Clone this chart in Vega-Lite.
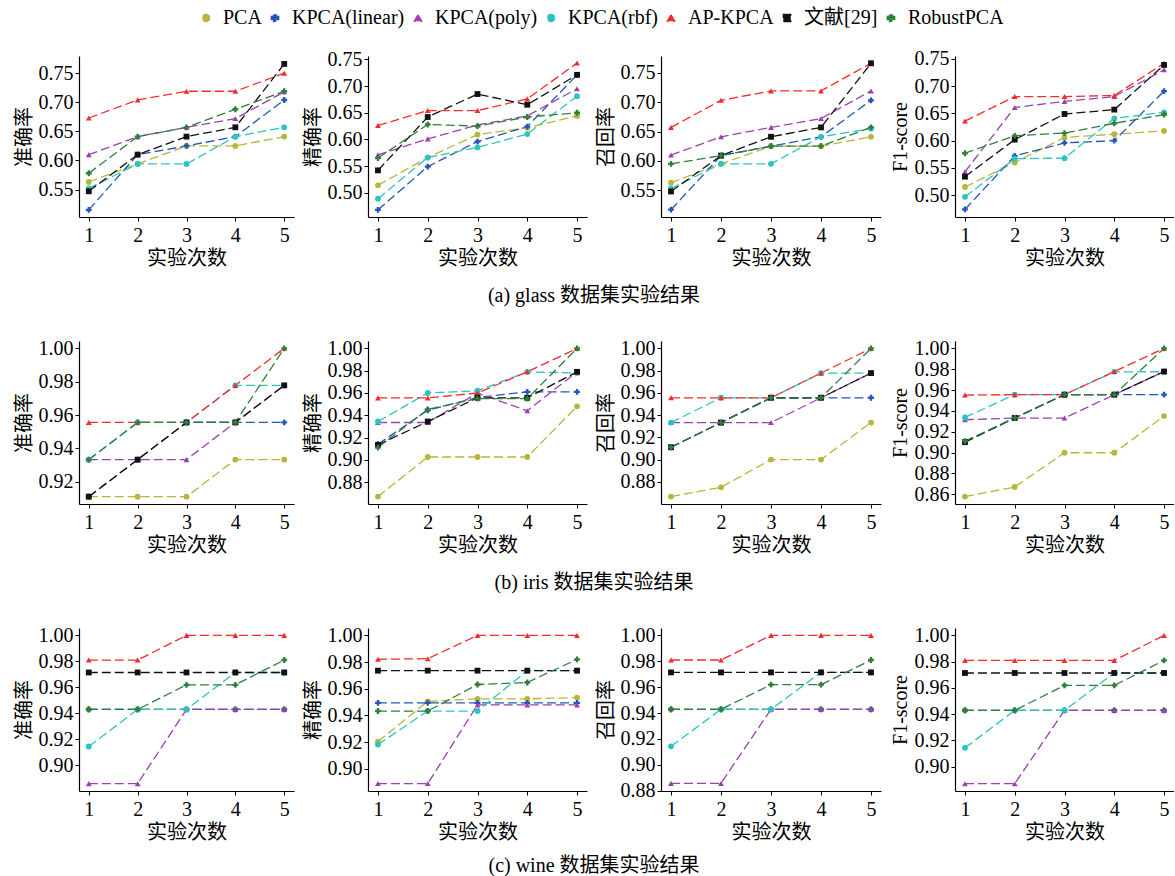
{
"$schema": "https://vega.github.io/schema/vega-lite/v6.json",
"padding": {"top": 8, "left": 14, "right": 0, "bottom": 0},
"datasets": {
"g_acc": [
{"s":"PCA","x":1,"y":0.563},{"s":"PCA","x":2,"y":0.594},{"s":"PCA","x":3,"y":0.625},{"s":"PCA","x":4,"y":0.625},{"s":"PCA","x":5,"y":0.641},
{"s":"KPCA(linear)","x":1,"y":0.515},{"s":"KPCA(linear)","x":2,"y":0.610},{"s":"KPCA(linear)","x":3,"y":0.625},{"s":"KPCA(linear)","x":4,"y":0.641},{"s":"KPCA(linear)","x":5,"y":0.704},
{"s":"KPCA(poly)","x":1,"y":0.610},{"s":"KPCA(poly)","x":2,"y":0.641},{"s":"KPCA(poly)","x":3,"y":0.657},{"s":"KPCA(poly)","x":4,"y":0.672},{"s":"KPCA(poly)","x":5,"y":0.718},
{"s":"KPCA(rbf)","x":1,"y":0.552},{"s":"KPCA(rbf)","x":2,"y":0.594},{"s":"KPCA(rbf)","x":3,"y":0.594},{"s":"KPCA(rbf)","x":4,"y":0.641},{"s":"KPCA(rbf)","x":5,"y":0.657},
{"s":"AP-KPCA","x":1,"y":0.673},{"s":"AP-KPCA","x":2,"y":0.704},{"s":"AP-KPCA","x":3,"y":0.719},{"s":"AP-KPCA","x":4,"y":0.719},{"s":"AP-KPCA","x":5,"y":0.750},
{"s":"文献[29]","x":1,"y":0.547},{"s":"文献[29]","x":2,"y":0.610},{"s":"文献[29]","x":3,"y":0.641},{"s":"文献[29]","x":4,"y":0.657},{"s":"文献[29]","x":5,"y":0.766},
{"s":"RobustPCA","x":1,"y":0.578},{"s":"RobustPCA","x":2,"y":0.641},{"s":"RobustPCA","x":3,"y":0.657},{"s":"RobustPCA","x":4,"y":0.688},{"s":"RobustPCA","x":5,"y":0.719}
],
"g_prec": [
{"s":"PCA","x":1,"y":0.514},{"s":"PCA","x":2,"y":0.566},{"s":"PCA","x":3,"y":0.609},{"s":"PCA","x":4,"y":0.622},{"s":"PCA","x":5,"y":0.644},
{"s":"KPCA(linear)","x":1,"y":0.468},{"s":"KPCA(linear)","x":2,"y":0.549},{"s":"KPCA(linear)","x":3,"y":0.596},{"s":"KPCA(linear)","x":4,"y":0.624},{"s":"KPCA(linear)","x":5,"y":0.721},
{"s":"KPCA(poly)","x":1,"y":0.571},{"s":"KPCA(poly)","x":2,"y":0.601},{"s":"KPCA(poly)","x":3,"y":0.627},{"s":"KPCA(poly)","x":4,"y":0.644},{"s":"KPCA(poly)","x":5,"y":0.695},
{"s":"KPCA(rbf)","x":1,"y":0.489},{"s":"KPCA(rbf)","x":2,"y":0.566},{"s":"KPCA(rbf)","x":3,"y":0.585},{"s":"KPCA(rbf)","x":4,"y":0.610},{"s":"KPCA(rbf)","x":5,"y":0.681},
{"s":"AP-KPCA","x":1,"y":0.626},{"s":"AP-KPCA","x":2,"y":0.654},{"s":"AP-KPCA","x":3,"y":0.654},{"s":"AP-KPCA","x":4,"y":0.676},{"s":"AP-KPCA","x":5,"y":0.743},
{"s":"文献[29]","x":1,"y":0.542},{"s":"文献[29]","x":2,"y":0.642},{"s":"文献[29]","x":3,"y":0.685},{"s":"文献[29]","x":4,"y":0.665},{"s":"文献[29]","x":5,"y":0.721},
{"s":"RobustPCA","x":1,"y":0.565},{"s":"RobustPCA","x":2,"y":0.628},{"s":"RobustPCA","x":3,"y":0.625},{"s":"RobustPCA","x":4,"y":0.642},{"s":"RobustPCA","x":5,"y":0.650}
],
"g_rec": [
{"s":"PCA","x":1,"y":0.563},{"s":"PCA","x":2,"y":0.595},{"s":"PCA","x":3,"y":0.625},{"s":"PCA","x":4,"y":0.625},{"s":"PCA","x":5,"y":0.641},
{"s":"KPCA(linear)","x":1,"y":0.517},{"s":"KPCA(linear)","x":2,"y":0.609},{"s":"KPCA(linear)","x":3,"y":0.625},{"s":"KPCA(linear)","x":4,"y":0.641},{"s":"KPCA(linear)","x":5,"y":0.703},
{"s":"KPCA(poly)","x":1,"y":0.610},{"s":"KPCA(poly)","x":2,"y":0.641},{"s":"KPCA(poly)","x":3,"y":0.657},{"s":"KPCA(poly)","x":4,"y":0.672},{"s":"KPCA(poly)","x":5,"y":0.719},
{"s":"KPCA(rbf)","x":1,"y":0.553},{"s":"KPCA(rbf)","x":2,"y":0.595},{"s":"KPCA(rbf)","x":3,"y":0.595},{"s":"KPCA(rbf)","x":4,"y":0.641},{"s":"KPCA(rbf)","x":5,"y":0.655},
{"s":"AP-KPCA","x":1,"y":0.657},{"s":"AP-KPCA","x":2,"y":0.703},{"s":"AP-KPCA","x":3,"y":0.719},{"s":"AP-KPCA","x":4,"y":0.719},{"s":"AP-KPCA","x":5,"y":0.766},
{"s":"文献[29]","x":1,"y":0.548},{"s":"文献[29]","x":2,"y":0.609},{"s":"文献[29]","x":3,"y":0.641},{"s":"文献[29]","x":4,"y":0.657},{"s":"文献[29]","x":5,"y":0.766},
{"s":"RobustPCA","x":1,"y":0.595},{"s":"RobustPCA","x":2,"y":0.609},{"s":"RobustPCA","x":3,"y":0.625},{"s":"RobustPCA","x":4,"y":0.625},{"s":"RobustPCA","x":5,"y":0.657}
],
"g_f1": [
{"s":"PCA","x":1,"y":0.515},{"s":"PCA","x":2,"y":0.560},{"s":"PCA","x":3,"y":0.606},{"s":"PCA","x":4,"y":0.612},{"s":"PCA","x":5,"y":0.618},
{"s":"KPCA(linear)","x":1,"y":0.474},{"s":"KPCA(linear)","x":2,"y":0.572},{"s":"KPCA(linear)","x":3,"y":0.596},{"s":"KPCA(linear)","x":4,"y":0.600},{"s":"KPCA(linear)","x":5,"y":0.691},
{"s":"KPCA(poly)","x":1,"y":0.543},{"s":"KPCA(poly)","x":2,"y":0.661},{"s":"KPCA(poly)","x":3,"y":0.672},{"s":"KPCA(poly)","x":4,"y":0.681},{"s":"KPCA(poly)","x":5,"y":0.730},
{"s":"KPCA(rbf)","x":1,"y":0.497},{"s":"KPCA(rbf)","x":2,"y":0.567},{"s":"KPCA(rbf)","x":3,"y":0.568},{"s":"KPCA(rbf)","x":4,"y":0.641},{"s":"KPCA(rbf)","x":5,"y":0.652},
{"s":"AP-KPCA","x":1,"y":0.636},{"s":"AP-KPCA","x":2,"y":0.681},{"s":"AP-KPCA","x":3,"y":0.681},{"s":"AP-KPCA","x":4,"y":0.683},{"s":"AP-KPCA","x":5,"y":0.742},
{"s":"文献[29]","x":1,"y":0.534},{"s":"文献[29]","x":2,"y":0.602},{"s":"文献[29]","x":3,"y":0.649},{"s":"文献[29]","x":4,"y":0.657},{"s":"文献[29]","x":5,"y":0.739},
{"s":"RobustPCA","x":1,"y":0.577},{"s":"RobustPCA","x":2,"y":0.609},{"s":"RobustPCA","x":3,"y":0.614},{"s":"RobustPCA","x":4,"y":0.632},{"s":"RobustPCA","x":5,"y":0.648}
],
"i_acc": [
{"s":"PCA","x":1,"y":0.9111},{"s":"PCA","x":2,"y":0.9111},{"s":"PCA","x":3,"y":0.9111},{"s":"PCA","x":4,"y":0.9333},{"s":"PCA","x":5,"y":0.9333},
{"s":"KPCA(linear)","x":1,"y":0.9111},{"s":"KPCA(linear)","x":2,"y":0.9333},{"s":"KPCA(linear)","x":3,"y":0.9556},{"s":"KPCA(linear)","x":4,"y":0.9556},{"s":"KPCA(linear)","x":5,"y":0.9556},
{"s":"KPCA(poly)","x":1,"y":0.9333},{"s":"KPCA(poly)","x":2,"y":0.9333},{"s":"KPCA(poly)","x":3,"y":0.9333},{"s":"KPCA(poly)","x":4,"y":0.9556},{"s":"KPCA(poly)","x":5,"y":0.9778},
{"s":"KPCA(rbf)","x":1,"y":0.9333},{"s":"KPCA(rbf)","x":2,"y":0.9556},{"s":"KPCA(rbf)","x":3,"y":0.9556},{"s":"KPCA(rbf)","x":4,"y":0.9778},{"s":"KPCA(rbf)","x":5,"y":0.9778},
{"s":"AP-KPCA","x":1,"y":0.9556},{"s":"AP-KPCA","x":2,"y":0.9556},{"s":"AP-KPCA","x":3,"y":0.9556},{"s":"AP-KPCA","x":4,"y":0.9778},{"s":"AP-KPCA","x":5,"y":1.0},
{"s":"文献[29]","x":1,"y":0.9111},{"s":"文献[29]","x":2,"y":0.9333},{"s":"文献[29]","x":3,"y":0.9556},{"s":"文献[29]","x":4,"y":0.9556},{"s":"文献[29]","x":5,"y":0.9778},
{"s":"RobustPCA","x":1,"y":0.9333},{"s":"RobustPCA","x":2,"y":0.9556},{"s":"RobustPCA","x":3,"y":0.9556},{"s":"RobustPCA","x":4,"y":0.9556},{"s":"RobustPCA","x":5,"y":1.0}
],
"i_prec": [
{"s":"PCA","x":1,"y":0.867},{"s":"PCA","x":2,"y":0.9025},{"s":"PCA","x":3,"y":0.9025},{"s":"PCA","x":4,"y":0.9025},{"s":"PCA","x":5,"y":0.948},
{"s":"KPCA(linear)","x":1,"y":0.914},{"s":"KPCA(linear)","x":2,"y":0.9445},{"s":"KPCA(linear)","x":3,"y":0.956},{"s":"KPCA(linear)","x":4,"y":0.961},{"s":"KPCA(linear)","x":5,"y":0.961},
{"s":"KPCA(poly)","x":1,"y":0.9335},{"s":"KPCA(poly)","x":2,"y":0.9335},{"s":"KPCA(poly)","x":3,"y":0.960},{"s":"KPCA(poly)","x":4,"y":0.944},{"s":"KPCA(poly)","x":5,"y":0.979},
{"s":"KPCA(rbf)","x":1,"y":0.9344},{"s":"KPCA(rbf)","x":2,"y":0.960},{"s":"KPCA(rbf)","x":3,"y":0.962},{"s":"KPCA(rbf)","x":4,"y":0.979},{"s":"KPCA(rbf)","x":5,"y":0.978},
{"s":"AP-KPCA","x":1,"y":0.9556},{"s":"AP-KPCA","x":2,"y":0.9556},{"s":"AP-KPCA","x":3,"y":0.960},{"s":"AP-KPCA","x":4,"y":0.979},{"s":"AP-KPCA","x":5,"y":1.0},
{"s":"文献[29]","x":1,"y":0.9134},{"s":"文献[29]","x":2,"y":0.9344},{"s":"文献[29]","x":3,"y":0.9557},{"s":"文献[29]","x":4,"y":0.9557},{"s":"文献[29]","x":5,"y":0.979},
{"s":"RobustPCA","x":1,"y":0.911},{"s":"RobustPCA","x":2,"y":0.9453},{"s":"RobustPCA","x":3,"y":0.955},{"s":"RobustPCA","x":4,"y":0.955},{"s":"RobustPCA","x":5,"y":1.0}
],
"i_rec": [
{"s":"PCA","x":1,"y":0.8667},{"s":"PCA","x":2,"y":0.875},{"s":"PCA","x":3,"y":0.9},{"s":"PCA","x":4,"y":0.9},{"s":"PCA","x":5,"y":0.9333},
{"s":"KPCA(linear)","x":1,"y":0.9111},{"s":"KPCA(linear)","x":2,"y":0.9333},{"s":"KPCA(linear)","x":3,"y":0.9556},{"s":"KPCA(linear)","x":4,"y":0.9556},{"s":"KPCA(linear)","x":5,"y":0.9556},
{"s":"KPCA(poly)","x":1,"y":0.9333},{"s":"KPCA(poly)","x":2,"y":0.9333},{"s":"KPCA(poly)","x":3,"y":0.9333},{"s":"KPCA(poly)","x":4,"y":0.9556},{"s":"KPCA(poly)","x":5,"y":0.9778},
{"s":"KPCA(rbf)","x":1,"y":0.9333},{"s":"KPCA(rbf)","x":2,"y":0.9556},{"s":"KPCA(rbf)","x":3,"y":0.9556},{"s":"KPCA(rbf)","x":4,"y":0.9778},{"s":"KPCA(rbf)","x":5,"y":0.9778},
{"s":"AP-KPCA","x":1,"y":0.9556},{"s":"AP-KPCA","x":2,"y":0.9556},{"s":"AP-KPCA","x":3,"y":0.9556},{"s":"AP-KPCA","x":4,"y":0.9778},{"s":"AP-KPCA","x":5,"y":1.0},
{"s":"文献[29]","x":1,"y":0.9111},{"s":"文献[29]","x":2,"y":0.9333},{"s":"文献[29]","x":3,"y":0.9556},{"s":"文献[29]","x":4,"y":0.9556},{"s":"文献[29]","x":5,"y":0.9778},
{"s":"RobustPCA","x":1,"y":0.9111},{"s":"RobustPCA","x":2,"y":0.9333},{"s":"RobustPCA","x":3,"y":0.9556},{"s":"RobustPCA","x":4,"y":0.9556},{"s":"RobustPCA","x":5,"y":1.0}
],
"i_f1": [
{"s":"PCA","x":1,"y":0.8577},{"s":"PCA","x":2,"y":0.8669},{"s":"PCA","x":3,"y":0.8998},{"s":"PCA","x":4,"y":0.8998},{"s":"PCA","x":5,"y":0.935},
{"s":"KPCA(linear)","x":1,"y":0.91},{"s":"KPCA(linear)","x":2,"y":0.9333},{"s":"KPCA(linear)","x":3,"y":0.9556},{"s":"KPCA(linear)","x":4,"y":0.9556},{"s":"KPCA(linear)","x":5,"y":0.9556},
{"s":"KPCA(poly)","x":1,"y":0.9315},{"s":"KPCA(poly)","x":2,"y":0.9331},{"s":"KPCA(poly)","x":3,"y":0.9331},{"s":"KPCA(poly)","x":4,"y":0.9556},{"s":"KPCA(poly)","x":5,"y":0.9778},
{"s":"KPCA(rbf)","x":1,"y":0.9337},{"s":"KPCA(rbf)","x":2,"y":0.9556},{"s":"KPCA(rbf)","x":3,"y":0.9556},{"s":"KPCA(rbf)","x":4,"y":0.9775},{"s":"KPCA(rbf)","x":5,"y":0.9776},
{"s":"AP-KPCA","x":1,"y":0.9552},{"s":"AP-KPCA","x":2,"y":0.9556},{"s":"AP-KPCA","x":3,"y":0.9556},{"s":"AP-KPCA","x":4,"y":0.9778},{"s":"AP-KPCA","x":5,"y":1.0},
{"s":"文献[29]","x":1,"y":0.91},{"s":"文献[29]","x":2,"y":0.9333},{"s":"文献[29]","x":3,"y":0.9556},{"s":"文献[29]","x":4,"y":0.9556},{"s":"文献[29]","x":5,"y":0.9778},
{"s":"RobustPCA","x":1,"y":0.911},{"s":"RobustPCA","x":2,"y":0.9333},{"s":"RobustPCA","x":3,"y":0.9556},{"s":"RobustPCA","x":4,"y":0.9556},{"s":"RobustPCA","x":5,"y":1.0}
],
"w_acc": [
{"s":"PCA","x":1,"y":0.9429},{"s":"PCA","x":2,"y":0.9429},{"s":"PCA","x":3,"y":0.9429},{"s":"PCA","x":4,"y":0.9429},{"s":"PCA","x":5,"y":0.9429},
{"s":"KPCA(linear)","x":1,"y":0.9429},{"s":"KPCA(linear)","x":2,"y":0.9429},{"s":"KPCA(linear)","x":3,"y":0.9429},{"s":"KPCA(linear)","x":4,"y":0.9429},{"s":"KPCA(linear)","x":5,"y":0.9429},
{"s":"KPCA(poly)","x":1,"y":0.8857},{"s":"KPCA(poly)","x":2,"y":0.8857},{"s":"KPCA(poly)","x":3,"y":0.9429},{"s":"KPCA(poly)","x":4,"y":0.9429},{"s":"KPCA(poly)","x":5,"y":0.9429},
{"s":"KPCA(rbf)","x":1,"y":0.9143},{"s":"KPCA(rbf)","x":2,"y":0.9429},{"s":"KPCA(rbf)","x":3,"y":0.9429},{"s":"KPCA(rbf)","x":4,"y":0.9714},{"s":"KPCA(rbf)","x":5,"y":0.9714},
{"s":"AP-KPCA","x":1,"y":0.981},{"s":"AP-KPCA","x":2,"y":0.981},{"s":"AP-KPCA","x":3,"y":1.0},{"s":"AP-KPCA","x":4,"y":1.0},{"s":"AP-KPCA","x":5,"y":1.0},
{"s":"文献[29]","x":1,"y":0.9714},{"s":"文献[29]","x":2,"y":0.9714},{"s":"文献[29]","x":3,"y":0.9714},{"s":"文献[29]","x":4,"y":0.9714},{"s":"文献[29]","x":5,"y":0.9714},
{"s":"RobustPCA","x":1,"y":0.9429},{"s":"RobustPCA","x":2,"y":0.9429},{"s":"RobustPCA","x":3,"y":0.9619},{"s":"RobustPCA","x":4,"y":0.9619},{"s":"RobustPCA","x":5,"y":0.981}
],
"w_prec": [
{"s":"PCA","x":1,"y":0.9204},{"s":"PCA","x":2,"y":0.9506},{"s":"PCA","x":3,"y":0.9524},{"s":"PCA","x":4,"y":0.9524},{"s":"PCA","x":5,"y":0.9534},
{"s":"KPCA(linear)","x":1,"y":0.9494},{"s":"KPCA(linear)","x":2,"y":0.9494},{"s":"KPCA(linear)","x":3,"y":0.9494},{"s":"KPCA(linear)","x":4,"y":0.9494},{"s":"KPCA(linear)","x":5,"y":0.9494},
{"s":"KPCA(poly)","x":1,"y":0.8889},{"s":"KPCA(poly)","x":2,"y":0.8889},{"s":"KPCA(poly)","x":3,"y":0.9479},{"s":"KPCA(poly)","x":4,"y":0.9479},{"s":"KPCA(poly)","x":5,"y":0.9479},
{"s":"KPCA(rbf)","x":1,"y":0.9181},{"s":"KPCA(rbf)","x":2,"y":0.9433},{"s":"KPCA(rbf)","x":3,"y":0.9433},{"s":"KPCA(rbf)","x":4,"y":0.9736},{"s":"KPCA(rbf)","x":5,"y":0.9736},
{"s":"AP-KPCA","x":1,"y":0.9821},{"s":"AP-KPCA","x":2,"y":0.9826},{"s":"AP-KPCA","x":3,"y":1.0},{"s":"AP-KPCA","x":4,"y":1.0},{"s":"AP-KPCA","x":5,"y":1.0},
{"s":"文献[29]","x":1,"y":0.9736},{"s":"文献[29]","x":2,"y":0.9736},{"s":"文献[29]","x":3,"y":0.9736},{"s":"文献[29]","x":4,"y":0.9736},{"s":"文献[29]","x":5,"y":0.9736},
{"s":"RobustPCA","x":1,"y":0.9433},{"s":"RobustPCA","x":2,"y":0.9433},{"s":"RobustPCA","x":3,"y":0.9632},{"s":"RobustPCA","x":4,"y":0.9647},{"s":"RobustPCA","x":5,"y":0.9821}
],
"w_rec": [
{"s":"PCA","x":1,"y":0.9429},{"s":"PCA","x":2,"y":0.9429},{"s":"PCA","x":3,"y":0.9429},{"s":"PCA","x":4,"y":0.9429},{"s":"PCA","x":5,"y":0.9429},
{"s":"KPCA(linear)","x":1,"y":0.9429},{"s":"KPCA(linear)","x":2,"y":0.9429},{"s":"KPCA(linear)","x":3,"y":0.9429},{"s":"KPCA(linear)","x":4,"y":0.9429},{"s":"KPCA(linear)","x":5,"y":0.9429},
{"s":"KPCA(poly)","x":1,"y":0.8857},{"s":"KPCA(poly)","x":2,"y":0.8857},{"s":"KPCA(poly)","x":3,"y":0.9429},{"s":"KPCA(poly)","x":4,"y":0.9429},{"s":"KPCA(poly)","x":5,"y":0.9429},
{"s":"KPCA(rbf)","x":1,"y":0.9143},{"s":"KPCA(rbf)","x":2,"y":0.9429},{"s":"KPCA(rbf)","x":3,"y":0.9429},{"s":"KPCA(rbf)","x":4,"y":0.9714},{"s":"KPCA(rbf)","x":5,"y":0.9714},
{"s":"AP-KPCA","x":1,"y":0.981},{"s":"AP-KPCA","x":2,"y":0.981},{"s":"AP-KPCA","x":3,"y":1.0},{"s":"AP-KPCA","x":4,"y":1.0},{"s":"AP-KPCA","x":5,"y":1.0},
{"s":"文献[29]","x":1,"y":0.9714},{"s":"文献[29]","x":2,"y":0.9714},{"s":"文献[29]","x":3,"y":0.9714},{"s":"文献[29]","x":4,"y":0.9714},{"s":"文献[29]","x":5,"y":0.9714},
{"s":"RobustPCA","x":1,"y":0.9429},{"s":"RobustPCA","x":2,"y":0.9429},{"s":"RobustPCA","x":3,"y":0.9619},{"s":"RobustPCA","x":4,"y":0.9619},{"s":"RobustPCA","x":5,"y":0.981}
],
"w_f1": [
{"s":"PCA","x":1,"y":0.9429},{"s":"PCA","x":2,"y":0.9429},{"s":"PCA","x":3,"y":0.9429},{"s":"PCA","x":4,"y":0.9429},{"s":"PCA","x":5,"y":0.9429},
{"s":"KPCA(linear)","x":1,"y":0.9429},{"s":"KPCA(linear)","x":2,"y":0.9429},{"s":"KPCA(linear)","x":3,"y":0.9429},{"s":"KPCA(linear)","x":4,"y":0.9429},{"s":"KPCA(linear)","x":5,"y":0.9429},
{"s":"KPCA(poly)","x":1,"y":0.887},{"s":"KPCA(poly)","x":2,"y":0.887},{"s":"KPCA(poly)","x":3,"y":0.9429},{"s":"KPCA(poly)","x":4,"y":0.9429},{"s":"KPCA(poly)","x":5,"y":0.9429},
{"s":"KPCA(rbf)","x":1,"y":0.9143},{"s":"KPCA(rbf)","x":2,"y":0.9429},{"s":"KPCA(rbf)","x":3,"y":0.9429},{"s":"KPCA(rbf)","x":4,"y":0.9714},{"s":"KPCA(rbf)","x":5,"y":0.9714},
{"s":"AP-KPCA","x":1,"y":0.981},{"s":"AP-KPCA","x":2,"y":0.981},{"s":"AP-KPCA","x":3,"y":0.981},{"s":"AP-KPCA","x":4,"y":0.981},{"s":"AP-KPCA","x":5,"y":1.0},
{"s":"文献[29]","x":1,"y":0.9714},{"s":"文献[29]","x":2,"y":0.9714},{"s":"文献[29]","x":3,"y":0.9714},{"s":"文献[29]","x":4,"y":0.9714},{"s":"文献[29]","x":5,"y":0.9714},
{"s":"RobustPCA","x":1,"y":0.9429},{"s":"RobustPCA","x":2,"y":0.9429},{"s":"RobustPCA","x":3,"y":0.9619},{"s":"RobustPCA","x":4,"y":0.9619},{"s":"RobustPCA","x":5,"y":0.981}
]
},
"config": {
"font": "Liberation Serif, Noto Sans CJK SC",
"view": {"stroke": null},
"axis": {"grid": false, "labelFontSize": 20, "titleFontSize": 20, "titleFontWeight": "normal", "labelColor": "black", "titleColor": "black", "domainColor": "black", "tickColor": "black", "tickSize": 4, "labelPadding": 2, "titlePadding": 4, "domainWidth": 1.2, "labelFont": "Liberation Serif, Noto Sans CJK SC", "titleFont": "Liberation Serif, Noto Sans CJK SC"},
"axisX": {"values": [1,2,3,4,5], "format": "d", "titlePadding": 3, "labelPadding": 4},
"axisY": {"format": ".2f", "labelOverlap": false},
"title": {"fontSize": 20, "fontWeight": "normal", "color": "black", "font": "Liberation Serif, Noto Sans CJK SC", "orient": "bottom", "anchor": "middle", "offset": 18},
"legend": {"labelFontSize": 20, "labelFont": "Liberation Serif, Noto Sans CJK SC", "labelColor": "black"},
"line": {"strokeDash": [9, 4], "strokeWidth": 1.3},
"point": {"filled": true, "opacity": 1, "size": 34}
},
"spacing": 32,
"vconcat": [
{"title": {"text": "(a) glass 数据集实验结果"}, "spacing": 9, "hconcat": [
{"width": 215, "height": 161, "data": {"name": "g_acc"},
 "encoding": {"x": {"field": "x", "type": "quantitative", "scale": {"domain": [0.8, 5.2], "nice": false}, "axis": {"title": "实验次数"}},
  "y": {"field": "y", "type": "quantitative", "scale": {"domain": [0.5028, 0.7796], "nice": false, "zero": false}, "axis": {"values": [0.55,0.6,0.65,0.7,0.75], "title": "准确率"}},
  "color": {"field": "s", "type": "nominal", "scale": {"domain": ["PCA","KPCA(linear)","KPCA(poly)","KPCA(rbf)","AP-KPCA","文献[29]","RobustPCA"], "range": ["#b8b53a","#2356b8","#9b40b0","#2cc3c3","#f52a2a","#111111","#2f7f3a"]}, "legend": {"orient": "none", "direction": "horizontal", "title": null, "legendX": 117, "legendY": -48, "columnPadding": 3, "labelOffset": 7, "symbolSize": 55}}},
 "layer": [{"mark": "line"}, {"mark": "point", "encoding": {"shape": {"field": "s", "type": "nominal", "scale": {"domain": ["PCA","KPCA(linear)","KPCA(poly)","KPCA(rbf)","AP-KPCA","文献[29]","RobustPCA"], "range": ["circle","cross","triangle-up","circle","triangle-up","square","cross"]}, "legend": {"orient": "none", "direction": "horizontal", "title": null, "legendX": 117, "legendY": -48, "columnPadding": 3, "labelOffset": 7, "symbolSize": 55}}}}]},
{"width": 219, "height": 161, "data": {"name": "g_prec"},
 "encoding": {"x": {"field": "x", "type": "quantitative", "scale": {"domain": [0.8, 5.2], "nice": false}, "axis": {"title": "实验次数"}},
  "y": {"field": "y", "type": "quantitative", "scale": {"domain": [0.4546, 0.7563], "nice": false, "zero": false}, "axis": {"values": [0.5,0.55,0.6,0.65,0.7,0.75], "title": "精确率"}},
  "color": {"field": "s", "type": "nominal"}},
 "layer": [{"mark": "line"}, {"mark": "point", "encoding": {"shape": {"field": "s", "type": "nominal"}}}]},
{"width": 220, "height": 161, "data": {"name": "g_rec"},
 "encoding": {"x": {"field": "x", "type": "quantitative", "scale": {"domain": [0.8, 5.2], "nice": false}, "axis": {"title": "实验次数"}},
  "y": {"field": "y", "type": "quantitative", "scale": {"domain": [0.5046, 0.7784], "nice": false, "zero": false}, "axis": {"values": [0.55,0.6,0.65,0.7,0.75], "title": "召回率"}},
  "color": {"field": "s", "type": "nominal"}},
 "layer": [{"mark": "line"}, {"mark": "point", "encoding": {"shape": {"field": "s", "type": "nominal"}}}]},
{"width": 219, "height": 161, "data": {"name": "g_f1"},
 "encoding": {"x": {"field": "x", "type": "quantitative", "scale": {"domain": [0.8, 5.2], "nice": false}, "axis": {"title": "实验次数"}},
  "y": {"field": "y", "type": "quantitative", "scale": {"domain": [0.46, 0.7554], "nice": false, "zero": false}, "axis": {"values": [0.5,0.55,0.6,0.65,0.7,0.75], "title": "F1-score"}},
  "color": {"field": "s", "type": "nominal"}},
 "layer": [{"mark": "line"}, {"mark": "point", "encoding": {"shape": {"field": "s", "type": "nominal"}}}]}
]},
{"title": {"text": "(b) iris 数据集实验结果"}, "spacing": 9, "hconcat": [
{"width": 215, "height": 163, "data": {"name": "i_acc"},
 "encoding": {"x": {"field": "x", "type": "quantitative", "scale": {"domain": [0.8, 5.2], "nice": false}, "axis": {"title": "实验次数"}},
  "y": {"field": "y", "type": "quantitative", "scale": {"domain": [0.9067, 1.0044], "nice": false, "zero": false}, "axis": {"values": [0.92,0.94,0.96,0.98,1.0], "title": "准确率"}},
  "color": {"field": "s", "type": "nominal"}},
 "layer": [{"mark": "line"}, {"mark": "point", "encoding": {"shape": {"field": "s", "type": "nominal"}}}]},
{"width": 219, "height": 163, "data": {"name": "i_prec"},
 "encoding": {"x": {"field": "x", "type": "quantitative", "scale": {"domain": [0.8, 5.2], "nice": false}, "axis": {"title": "实验次数"}},
  "y": {"field": "y", "type": "quantitative", "scale": {"domain": [0.8603, 1.0067], "nice": false, "zero": false}, "axis": {"values": [0.88,0.9,0.92,0.94,0.96,0.98,1.0], "title": "精确率"}},
  "color": {"field": "s", "type": "nominal"}},
 "layer": [{"mark": "line"}, {"mark": "point", "encoding": {"shape": {"field": "s", "type": "nominal"}}}]},
{"width": 220, "height": 163, "data": {"name": "i_rec"},
 "encoding": {"x": {"field": "x", "type": "quantitative", "scale": {"domain": [0.8, 5.2], "nice": false}, "axis": {"title": "实验次数"}},
  "y": {"field": "y", "type": "quantitative", "scale": {"domain": [0.86, 1.0067], "nice": false, "zero": false}, "axis": {"values": [0.88,0.9,0.92,0.94,0.96,0.98,1.0], "title": "召回率"}},
  "color": {"field": "s", "type": "nominal"}},
 "layer": [{"mark": "line"}, {"mark": "point", "encoding": {"shape": {"field": "s", "type": "nominal"}}}]},
{"width": 219, "height": 163, "data": {"name": "i_f1"},
 "encoding": {"x": {"field": "x", "type": "quantitative", "scale": {"domain": [0.8, 5.2], "nice": false}, "axis": {"title": "实验次数"}},
  "y": {"field": "y", "type": "quantitative", "scale": {"domain": [0.8506, 1.0071], "nice": false, "zero": false}, "axis": {"values": [0.86,0.88,0.9,0.92,0.94,0.96,0.98,1.0], "title": "F1-score"}},
  "color": {"field": "s", "type": "nominal"}},
 "layer": [{"mark": "line"}, {"mark": "point", "encoding": {"shape": {"field": "s", "type": "nominal"}}}]}
]},
{"title": {"text": "(c) wine 数据集实验结果", "offset": 14}, "spacing": 9, "hconcat": [
{"width": 215, "height": 163, "data": {"name": "w_acc"},
 "encoding": {"x": {"field": "x", "type": "quantitative", "scale": {"domain": [0.8, 5.2], "nice": false}, "axis": {"title": "实验次数"}},
  "y": {"field": "y", "type": "quantitative", "scale": {"domain": [0.88, 1.0057], "nice": false, "zero": false}, "axis": {"values": [0.9,0.92,0.94,0.96,0.98,1.0], "title": "准确率"}},
  "color": {"field": "s", "type": "nominal"}},
 "layer": [{"mark": "line"}, {"mark": "point", "encoding": {"shape": {"field": "s", "type": "nominal"}}}]},
{"width": 219, "height": 163, "data": {"name": "w_prec"},
 "encoding": {"x": {"field": "x", "type": "quantitative", "scale": {"domain": [0.8, 5.2], "nice": false}, "axis": {"title": "实验次数"}},
  "y": {"field": "y", "type": "quantitative", "scale": {"domain": [0.8833, 1.0056], "nice": false, "zero": false}, "axis": {"values": [0.9,0.92,0.94,0.96,0.98,1.0], "title": "精确率"}},
  "color": {"field": "s", "type": "nominal"}},
 "layer": [{"mark": "line"}, {"mark": "point", "encoding": {"shape": {"field": "s", "type": "nominal"}}}]},
{"width": 220, "height": 163, "data": {"name": "w_rec"},
 "encoding": {"x": {"field": "x", "type": "quantitative", "scale": {"domain": [0.8, 5.2], "nice": false}, "axis": {"title": "实验次数"}},
  "y": {"field": "y", "type": "quantitative", "scale": {"domain": [0.8798, 1.0057], "nice": false, "zero": false}, "axis": {"values": [0.88,0.9,0.92,0.94,0.96,0.98,1.0], "title": "召回率"}},
  "color": {"field": "s", "type": "nominal"}},
 "layer": [{"mark": "line"}, {"mark": "point", "encoding": {"shape": {"field": "s", "type": "nominal"}}}]},
{"width": 219, "height": 163, "data": {"name": "w_f1"},
 "encoding": {"x": {"field": "x", "type": "quantitative", "scale": {"domain": [0.8, 5.2], "nice": false}, "axis": {"title": "实验次数"}},
  "y": {"field": "y", "type": "quantitative", "scale": {"domain": [0.8814, 1.0057], "nice": false, "zero": false}, "axis": {"values": [0.9,0.92,0.94,0.96,0.98,1.0], "title": "F1-score"}},
  "color": {"field": "s", "type": "nominal"}},
 "layer": [{"mark": "line"}, {"mark": "point", "encoding": {"shape": {"field": "s", "type": "nominal"}}}]}
]}
]
}
